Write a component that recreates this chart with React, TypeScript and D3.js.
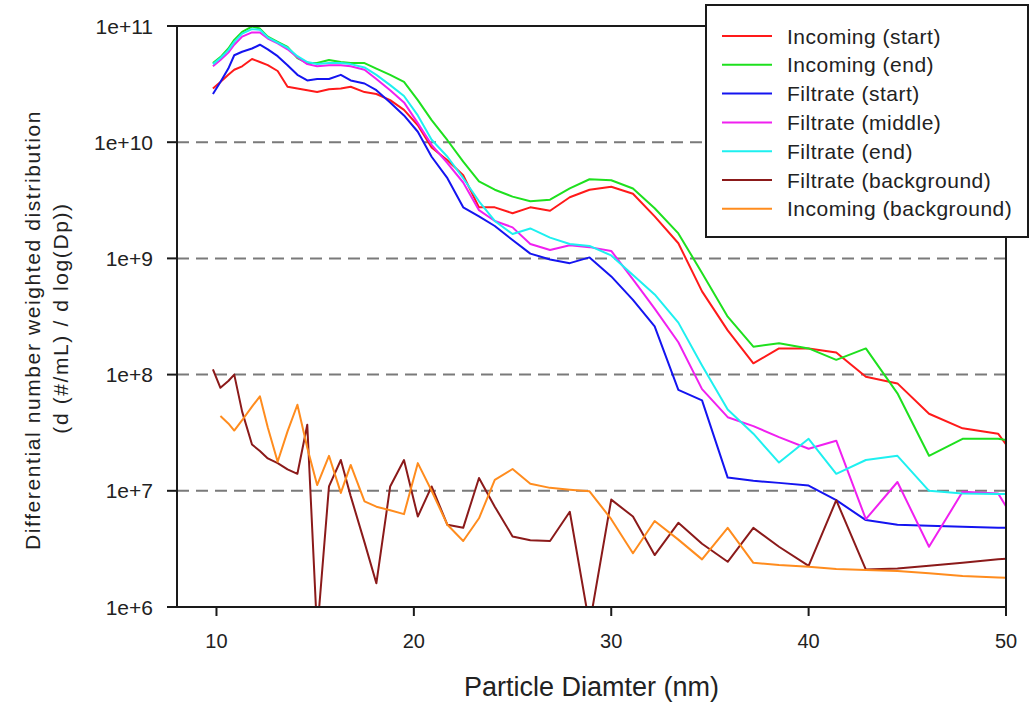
import React from "react";
import * as d3 from "d3";

// Particle diameters (nm) of the size channels
const diameters = [9.82, 10.2, 10.6, 10.9, 11.3, 11.8, 12.2, 12.6, 13.1, 13.6, 14.1, 14.6, 15.1, 15.7, 16.3, 16.8, 17.5, 18.1, 18.8, 19.5, 20.2, 20.9, 21.7, 22.5, 23.3, 24.1, 25.0, 25.9, 26.9, 27.9, 28.9, 30.0, 31.1, 32.2, 33.4, 34.6, 35.9, 37.2, 38.5, 40.0, 41.4, 42.9, 44.5, 46.1, 47.8, 49.6, 51.4];

const incomingStart = [2.9e10, 3.3e10, 3.8e10, 4.2e10, 4.5e10, 5.2e10, 4.9e10, 4.6e10, 4.1e10, 3.0e10, 2.9e10, 2.8e10, 2.7e10, 2.85e10, 2.9e10, 3.0e10, 2.7e10, 2.6e10, 2.3e10, 1.9e10, 1.4e10, 9.0e9, 7.0e9, 5.2e9, 2.75e9, 2.75e9, 2.45e9, 2.75e9, 2.57e9, 3.36e9, 3.9e9, 4.14e9, 3.6e9, 2.3e9, 1.35e9, 5.2e8, 2.4e8, 1.25e8, 1.68e8, 1.68e8, 1.55e8, 9.6e7, 8.4e7, 4.6e7, 3.45e7, 3.1e7, 1.2e7];

const incomingEnd = [4.8e10, 5.4e10, 6.4e10, 7.6e10, 8.9e10, 9.9e10, 9.5e10, 8.1e10, 7.3e10, 6.6e10, 5.3e10, 4.8e10, 4.8e10, 5.1e10, 4.9e10, 4.8e10, 4.8e10, 4.3e10, 3.8e10, 3.3e10, 2.3e10, 1.55e10, 1.04e10, 6.8e9, 4.6e9, 3.9e9, 3.4e9, 3.1e9, 3.2e9, 4.0e9, 4.8e9, 4.7e9, 4.0e9, 2.7e9, 1.64e9, 7.5e8, 3.15e8, 1.74e8, 1.86e8, 1.68e8, 1.34e8, 1.68e8, 6.9e7, 2.0e7, 2.8e7, 2.8e7, 2.5e7];

const filtrateStart = [2.6e10, 3.3e10, 4.3e10, 5.6e10, 6.0e10, 6.4e10, 6.9e10, 6.3e10, 5.5e10, 4.6e10, 3.8e10, 3.4e10, 3.5e10, 3.5e10, 3.8e10, 3.4e10, 3.2e10, 2.8e10, 2.2e10, 1.7e10, 1.23e10, 7.5e9, 4.9e9, 2.75e9, 2.3e9, 1.9e9, 1.44e9, 1.1e9, 9.8e8, 9.1e8, 1.02e9, 7.0e8, 4.4e8, 2.6e8, 7.4e7, 6.0e7, 1.3e7, 1.22e7, 1.17e7, 1.11e7, 8.3e6, 5.6e6, 5.1e6, 5.0e6, 4.9e6, 4.8e6, 4.8e6];

const filtrateMiddle = [4.5e10, 5.1e10, 5.9e10, 6.9e10, 8.1e10, 8.8e10, 8.8e10, 7.8e10, 7.1e10, 6.3e10, 5.4e10, 4.7e10, 4.5e10, 4.6e10, 4.6e10, 4.5e10, 4.2e10, 3.5e10, 2.8e10, 2.2e10, 1.46e10, 9.5e9, 6.6e9, 4.5e9, 2.6e9, 2.1e9, 1.85e9, 1.33e9, 1.18e9, 1.3e9, 1.25e9, 1.16e9, 6.6e8, 3.7e8, 1.9e8, 7.5e7, 4.3e7, 3.6e7, 2.9e7, 2.3e7, 2.7e7, 5.7e6, 1.19e7, 3.3e6, 9.8e6, 9.5e6, 3.0e6];

const filtrateEnd = [4.7e10, 5.3e10, 6.2e10, 7.3e10, 8.6e10, 9.4e10, 9.3e10, 8.0e10, 7.2e10, 6.5e10, 5.5e10, 4.9e10, 4.7e10, 4.8e10, 4.8e10, 4.7e10, 4.4e10, 3.8e10, 3.1e10, 2.5e10, 1.7e10, 1.05e10, 7.5e9, 4.9e9, 3.1e9, 2.1e9, 1.62e9, 1.81e9, 1.51e9, 1.33e9, 1.28e9, 1.06e9, 7.2e8, 4.9e8, 2.8e8, 1.2e8, 5.0e7, 3.1e7, 1.75e7, 2.8e7, 1.4e7, 1.84e7, 2.0e7, 1.0e7, 9.5e6, 9.4e6, 9.3e6];

const filtrateBackground = [1.11e8, 7.7e7, 8.8e7, 1.0e8, 4.8e7, 2.5e7, 2.2e7, 1.9e7, 1.73e7, 1.53e7, 1.4e7, 3.7e7, 6e5, 1.09e7, 1.84e7, 9.0e6, 3.6e6, 1.6e6, 1.09e7, 1.84e7, 6.0e6, 1.09e7, 5.1e6, 4.8e6, 1.29e7, 7.3e6, 4.05e6, 3.75e6, 3.7e6, 6.6e6, 7e5, 8.4e6, 6.0e6, 2.8e6, 5.3e6, 3.5e6, 2.45e6, 4.8e6, 3.3e6, 2.26e6, 8.3e6, 2.1e6, 2.14e6, 2.26e6, 2.4e6, 2.57e6, 2.7e6];

const incomingBackground = [null, 4.4e7, 3.8e7, 3.3e7, 4.05e7, 5.3e7, 6.5e7, 3.5e7, 1.78e7, 3.25e7, 5.5e7, 2.35e7, 1.12e7, 2.0e7, 9.6e6, 1.67e7, 8.1e6, 7.3e6, 6.8e6, 6.3e6, 1.73e7, 1.0e7, 5.1e6, 3.7e6, 5.8e6, 1.24e7, 1.54e7, 1.15e7, 1.06e7, 1.02e7, 9.9e6, 5.7e6, 2.9e6, 5.5e6, 3.8e6, 2.57e6, 4.8e6, 2.4e6, 2.3e6, 2.22e6, 2.12e6, 2.08e6, 2.04e6, 1.95e6, 1.85e6, 1.79e6, 1.75e6];

const seriesNames = ["Incoming (start)", "Incoming (end)", "Filtrate (start)", "Filtrate (middle)", "Filtrate (end)", "Filtrate (background)", "Incoming (background)"];
const seriesValues = [incomingStart, incomingEnd, filtrateStart, filtrateMiddle, filtrateEnd, filtrateBackground, incomingBackground];
const seriesColors = ["#ff1a1a", "#1ee01e", "#1414f0", "#f020f0", "#1ef0f0", "#8b1a1a", "#ff8c1e"];

const xTicks = [10, 20, 30, 40, 50];
const yTicks = [1e6, 1e7, 1e8, 1e9, 1e10, 1e11];
const yTickLabels = ["1e+6", "1e+7", "1e+8", "1e+9", "1e+10", "1e+11"];
const gridValues = [1e7, 1e8, 1e9, 1e10];

const W = 1030;
const H = 705;
const L = 177, R = 1006, T = 26, B = 607;
const FONT = "Arial, 'Liberation Sans', sans-serif";

export default function App() {
  const x = d3.scaleLinear().domain([8, 50]).range([L, R]);
  const y = d3.scaleLog().domain([1e6, 1e11]).range([B, T]);
  const line = d3
    .line<[number, number | null]>()
    .defined((d) => d[1] != null)
    .x((d) => x(d[0]))
    .y((d) => y(d[1] as number));

  const legendX = 706, legendY = 5, legendW = 322, legendH = 232;
  const rowY0 = 36, rowStep = 28.8;

  return (
    <svg
      width={W}
      height={H}
      style={{ position: "absolute", left: 0, top: 0, display: "block", background: "#fff" }}
      fontFamily={FONT}
    >
      <defs>
        <clipPath id="plotClip">
          <rect x={L} y={T} width={R - L} height={B - T} />
        </clipPath>
      </defs>
      <rect x={0} y={0} width={W} height={H} fill="#fff" />

      {/* grid */}
      {gridValues.map((g) => (
        <line key={g} x1={L} x2={R} y1={y(g)} y2={y(g)} stroke="#7a7a7a" strokeWidth={2} strokeDasharray="12,7" />
      ))}

      {/* series */}
      <g clipPath="url(#plotClip)">
        {seriesValues.map((vals, i) => (
          <path
            key={seriesNames[i]}
            d={line(diameters.map((d, j) => [d, vals[j]] as [number, number | null])) || ""}
            fill="none"
            stroke={seriesColors[i]}
            strokeWidth={2}
            strokeLinejoin="round"
          />
        ))}
      </g>

      {/* frame */}
      <rect x={L} y={T} width={R - L} height={B - T} fill="none" stroke="#1a1a1a" strokeWidth={2} />

      {/* y ticks */}
      {yTicks.map((t, i) => (
        <g key={t}>
          <line x1={L - 10} x2={L} y1={y(t)} y2={y(t)} stroke="#1a1a1a" strokeWidth={2} />
          <text x={153} y={y(t)} dy="0.36em" textAnchor="end" fontSize={21} fill="#222">
            {yTickLabels[i]}
          </text>
        </g>
      ))}

      {/* x ticks */}
      {xTicks.map((t) => (
        <g key={t}>
          <line x1={x(t)} x2={x(t)} y1={B} y2={B + 9} stroke="#1a1a1a" strokeWidth={2} />
          <text x={x(t)} y={648} textAnchor="middle" fontSize={20} fill="#222">
            {t}
          </text>
        </g>
      ))}

      {/* axis titles */}
      <text x={(L + R) / 2} y={696} textAnchor="middle" fontSize={27} fill="#222" textLength={255} lengthAdjust="spacingAndGlyphs">
        Particle Diamter (nm)
      </text>
      <text transform="translate(40,330) rotate(-90)" textAnchor="middle" fontSize={21} fill="#222" letterSpacing={1.6}>
        Differential number weighted distribution
      </text>
      <text transform="translate(68,318) rotate(-90)" textAnchor="middle" fontSize={21} fill="#222" letterSpacing={1.6}>
        (d (#/mL) / d log(Dp))
      </text>

      {/* legend */}
      <rect x={legendX} y={legendY} width={legendW} height={legendH} fill="#fff" stroke="#1a1a1a" strokeWidth={2} />
      {seriesNames.map((name, i) => (
        <g key={name}>
          <line x1={722} x2={772} y1={rowY0 + i * rowStep} y2={rowY0 + i * rowStep} stroke={seriesColors[i]} strokeWidth={2} />
          <text x={787} y={rowY0 + i * rowStep} dy="0.36em" fontSize={21} fill="#222" letterSpacing={0.5}>
            {name}
          </text>
        </g>
      ))}
    </svg>
  );
}
